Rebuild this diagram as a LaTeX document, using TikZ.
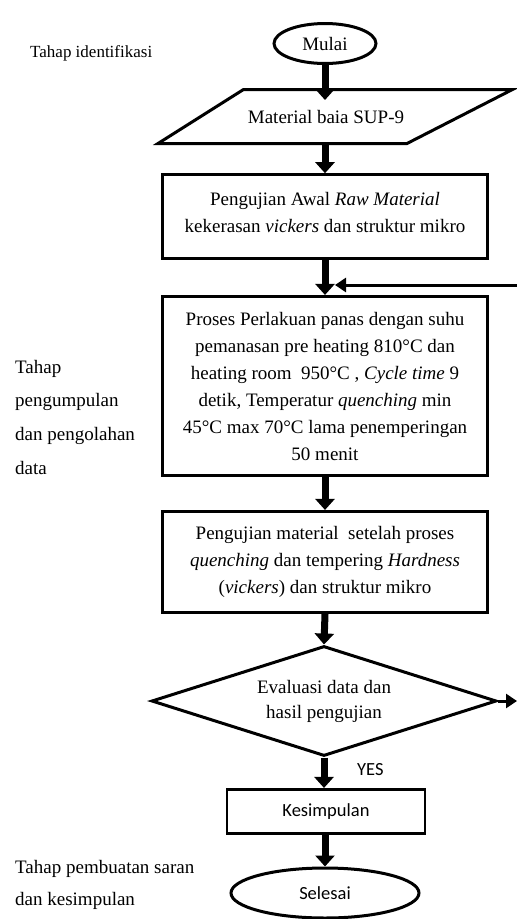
\documentclass[tikz,border=0pt]{standalone}
\usepackage{fontspec}
\setmainfont{Liberation Serif}
\newfontfamily\carlito{Carlito}
\usetikzlibrary{arrows.meta,shapes.geometric}
\begin{document}
\begin{tikzpicture}[x=1pt,y=-1pt,
  txt/.style={font=\fontsize{19}{27}\selectfont, inner sep=0pt, align=center},
  lbl/.style={font=\fontsize{19}{27}\selectfont, inner sep=0pt, anchor=base west},
  sans/.style={font=\carlito\fontsize{18.5}{24}\selectfont},
  box/.style={draw, line width=2.6pt, inner sep=0pt, align=center, font=\fontsize{19}{27}\selectfont},
  flow/.style={line width=7pt, -{Triangle[width=19pt,length=11pt]}},
  slim/.style={line width=3pt, -{Triangle[width=14pt,length=11pt]}}
]
\useasboundingbox (0,0) rectangle (517,919);

% left stage labels
\node[lbl, font=\fontsize{17}{24}\selectfont] (l1) at (30,57) {Tahap identifikasi};
\node[lbl] (l2a) at (15,373) {Tahap};
\node[lbl] (l2b) at (15,406) {pengumpulan};
\node[lbl] (l2c) at (15,440) {dan pengolahan};
\node[lbl] (l2d) at (15,474) {data};
\node[lbl] (l3a) at (15,873) {Tahap pembuatan saran};
\node[lbl] (l3b) at (15,905) {dan kesimpulan};

% start
\node[draw, ellipse, line width=3pt, inner sep=0pt, minimum width=102pt, minimum height=40pt,
      font=\fontsize{19}{27}\selectfont] (mulai) at (325,43.5) {Mulai};

% input parallelogram
\draw[line width=3pt, line join=miter] (243.5,89.5) -- (512.5,89.5) -- (407,143.5) -- (158,143.5) -- cycle;
\node[txt] (mat) at (326,117) {Material baia SUP-9};
\coordinate (matT) at (325,100);
\coordinate (matB) at (325,143.5);

% box 1
\node[box, minimum width=325pt, minimum height=84pt] (b1) at (325,216.5) {};
\node[txt] (b1t) at (325,212) {Pengujian Awal \textit{Raw Material}\\kekerasan \textit{vickers} dan struktur mikro};

% box 2
\node[box, minimum width=325pt, minimum height=179.5pt] (b2) at (325,386)
 {Proses Perlakuan panas dengan suhu\\
  pemanasan pre heating 810°C dan\\
  heating room~ 950°C , \textit{Cycle time} 9\\
  detik, Temperatur \textit{quenching} min\\
  45°C max 70°C lama penemperingan\\
  50 menit};

% box 3
\node[box, minimum width=325pt, minimum height=101.5pt] (b3) at (325,562)
 {Pengujian material~ setelah proses\\
  \textit{quenching} dan tempering \textit{Hardness}\\
  (\textit{vickers}) dan struktur mikro};

% decision
\node[draw, diamond, aspect=3.1, line width=3pt, inner sep=0pt, minimum width=345pt, minimum height=110pt,
      align=center, font=\fontsize{19}{25}\selectfont] (dia) at (324,701)
 {Evaluasi data dan\\hasil pengujian};

% conclusion
\node[draw, line width=2.6pt, sans, minimum width=198pt, minimum height=44.5pt, inner sep=0pt] (kes) at (326,811.5) {Kesimpulan};

% end
\node[draw, ellipse, line width=3pt, sans, inner sep=0pt, minimum width=188pt, minimum height=50pt] (sel) at (325,893) {Selesai};

\node[sans, anchor=base west, inner sep=0pt] (yes) at (357,775) {YES};

% flow arrows
\draw[flow] (mulai.south) -- (matT);
\draw[flow] (matB) -- (matB |- b1.north);
\draw[flow] (b1.south) -- (b2.north);
\draw[flow] (b2.south) -- (b3.north);
\draw[flow] (b3.south) -- (dia.north);
\draw[flow] (dia.south) -- (dia.south |- kes.north);
\draw[flow] (kes.south -| sel.north) -- (sel.north);

% feedback and exit
\coordinate (fbR) at (517,285);
\coordinate (fbT) at (335,285);
\draw[slim] (fbR) -- (fbT);
\coordinate (ex) at (517,705);
\draw[slim] (dia.east) -- (dia.east -| ex);
\end{tikzpicture}
\end{document}
